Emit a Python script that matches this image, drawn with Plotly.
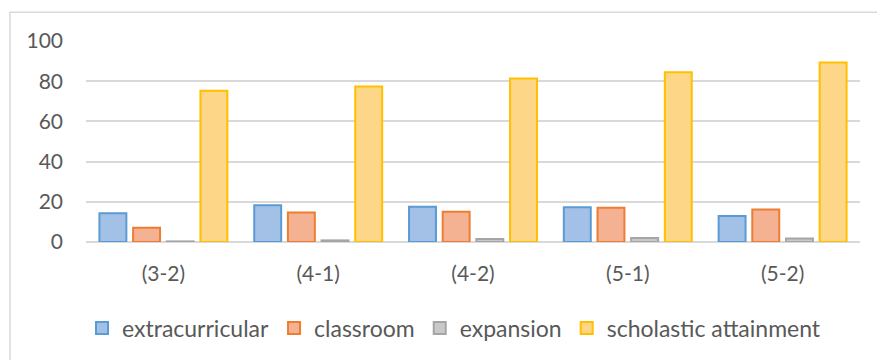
import plotly.graph_objects as go

categories = ["(3-2)", "(4-1)", "(4-2)", "(5-1)", "(5-2)"]
extracurricular = [14.3, 18.3, 17.5, 17.3, 12.9]
classroom = [7.1, 14.7, 15.0, 17.0, 16.2]
expansion = [0.3, 0.8, 1.5, 2.0, 1.7]
scholastic = [75.2, 77.4, 81.3, 84.5, 89.3]
y_ticks = [0, 20, 40, 60, 80, 100]

series = [
    ("extracurricular", extracurricular, "#a3c0e6", "#5b9bd5"),
    ("classroom", classroom, "#f5b293", "#ed7d31"),
    ("expansion", expansion, "#c9c9c9", "#a5a5a5"),
    ("scholastic attainment", scholastic, "#fdd688", "#ffc000"),
]

FONT = "Lato, Calibri, Carlito, sans-serif"
TXT = "#595959"

fig = go.Figure()
for name, vals, fill, line in series:
    fig.add_trace(go.Bar(
        x=categories, y=vals, name=name,
        marker=dict(color=fill, line=dict(color=line, width=2)),
    ))

W, H = 877, 360
L, R, T, B = 86, 17, 41, 117
pw, ph = W - L - R, H - T - B

def px_x(px):
    return (px - L) / pw

def px_y(py):
    return (H - B - py) / ph

fig.update_layout(
    width=W, height=H,
    margin=dict(l=L, r=R, t=T, b=B, pad=0),
    paper_bgcolor="white", plot_bgcolor="white",
    barmode="group", bargap=0.13, bargroupgap=0.2,
    font=dict(family=FONT, size=21, color=TXT),
    showlegend=True,
    legend=dict(
        orientation="h", x=px_x(454), xanchor="center",
        y=px_y(328), yanchor="middle",
        font=dict(family=FONT, size=23, color=TXT),
        itemwidth=30, tracegroupgap=0,
    ),
    xaxis=dict(
        showgrid=False, showline=False, zeroline=False, ticks="",
        tickfont=dict(family=FONT, size=21, color=TXT),
        ticklabelstandoff=17,
    ),
    yaxis=dict(
        range=[0, 100], tickvals=y_ticks,
        showgrid=True, gridcolor="#d9d9d9", gridwidth=1.5,
        zeroline=True, zerolinecolor="#d9d9d9", zerolinewidth=1.5,
        showline=False, ticks="",
        tickfont=dict(family=FONT, size=21, color=TXT),
        ticklabelstandoff=22,
    ),
    shapes=[dict(
        type="rect", xref="paper", yref="paper",
        x0=px_x(10), x1=px_x(890), y0=px_y(380), y1=px_y(12),
        line=dict(color="#d9d9d9", width=1.5), fillcolor="rgba(0,0,0,0)",
        layer="below",
    )],
)

fig.write_html("out.html")
